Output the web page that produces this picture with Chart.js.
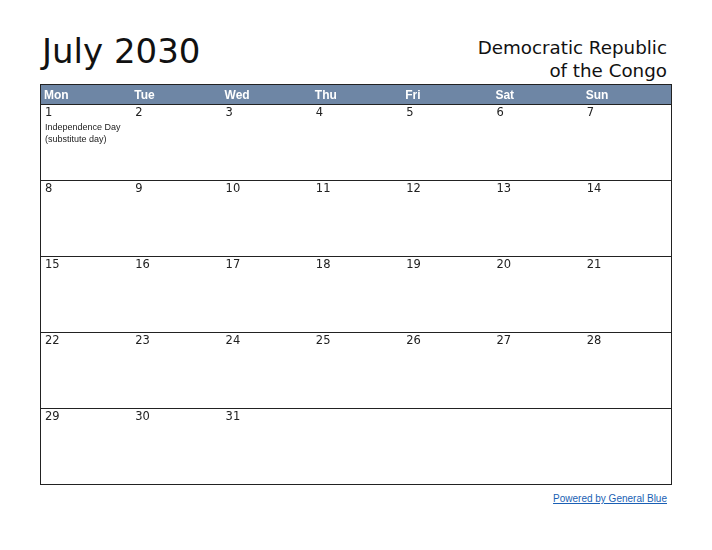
<!DOCTYPE html>
<html>
<head>
<meta charset="utf-8">
<script src="https://cdn.jsdelivr.net/npm/chart.js@4"></script>
<style>
body { margin: 0; background: #fff; width: 712px; height: 550px; position: relative; overflow: hidden; }
#chart { position: absolute; left: 0; top: 0; }
.title { position: absolute; left: 42px; top: 31px; font: 34px "DejaVu Sans", sans-serif; color: #111; }
.country { position: absolute; right: 45px; top: 36px; text-align: right; font: 18.3px "DejaVu Sans", sans-serif; line-height: 23px; color: #111; }
.foot { position: absolute; right: 45px; top: 493px; font: 10px "Liberation Sans", Arial, sans-serif; color: #1a5fb4; text-decoration: underline; }
</style>
</head>
<body>
<div class="title">July 2030</div>
<div class="country">Democratic Republic<br>of the Congo</div>
<div class="foot">Powered by General Blue</div>
<canvas id="chart" width="712" height="550"></canvas>
<script>
const weekdays = ["Mon", "Tue", "Wed", "Thu", "Fri", "Sat", "Sun"];
const days = [];
for (let d = 1; d <= 31; d++) days.push(d);
const firstCol = 0; // July 1 2030 is a Monday
const holidays = { 1: ["Independence Day", "(substitute day)"] };
const headerH = -0.276;

const points = days.map(d => ({ x: (d - 1 + firstCol) % 7, y: Math.floor((d - 1 + firstCol) / 7), d }));

const calendarPlugin = {
  id: "calendar",
  beforeDraw(chart) {
    const { ctx, chartArea: a, scales: { x, y } } = chart;
    ctx.save();
    ctx.fillStyle = "#6e86a5";
    ctx.fillRect(a.left, y.getPixelForValue(headerH), a.right - a.left, y.getPixelForValue(0) - y.getPixelForValue(headerH));
    ctx.fillStyle = "#fff";
    ctx.font = "bold 12px 'Liberation Sans', Arial, sans-serif";
    ctx.textBaseline = "middle";
    weekdays.forEach((w, i) => {
      ctx.fillText(w, x.getPixelForValue(i) + 4, y.getPixelForValue(headerH / 2) + 1);
    });
    ctx.restore();
  },
  afterDraw(chart) {
    const { ctx, chartArea: a, scales: { x, y } } = chart;
    ctx.save();
    ctx.strokeStyle = "#222";
    ctx.lineWidth = 1;
    ctx.strokeRect(a.left + 0.5, a.top + 0.5, a.right - a.left - 1, a.bottom - a.top - 1);
    ctx.fillStyle = "#222";
    ctx.textBaseline = "top";
    points.forEach(p => {
      const px = x.getPixelForValue(p.x) + 5;
      const py = y.getPixelForValue(p.y) + 2;
      ctx.font = "11.5px 'DejaVu Sans', sans-serif";
      ctx.fillText(String(p.d), px, py);
      (holidays[p.d] || []).forEach((t, i) => {
        ctx.font = "9px 'Liberation Sans', Arial, sans-serif";
        ctx.fillText(t, px, py + 16 + i * 12);
      });
    });
    ctx.restore();
  }
};

new Chart(document.getElementById("chart"), {
  type: "scatter",
  data: { datasets: [{ data: points, pointRadius: 0, pointHoverRadius: 0 }] },
  options: {
    responsive: false,
    animation: false,
    events: [],
    layout: { padding: { left: 40, top: 84, right: 40, bottom: 65 } },
    plugins: { legend: { display: false }, tooltip: { enabled: false } },
    scales: {
      x: {
        type: "linear", min: 0, max: 7,
        ticks: { display: false, stepSize: 1 },
        grid: { color: "rgba(0,0,0,0)", drawTicks: false },
        border: { display: false }
      },
      y: {
        type: "linear", min: headerH, max: 5, reverse: true,
        afterBuildTicks: s => { s.ticks = [0, 1, 2, 3, 4].map(v => ({ value: v })); },
        ticks: { display: false },
        grid: { color: "#222", drawTicks: false },
        border: { display: false }
      }
    }
  },
  plugins: [calendarPlugin]
});
</script>
</body>
</html>
